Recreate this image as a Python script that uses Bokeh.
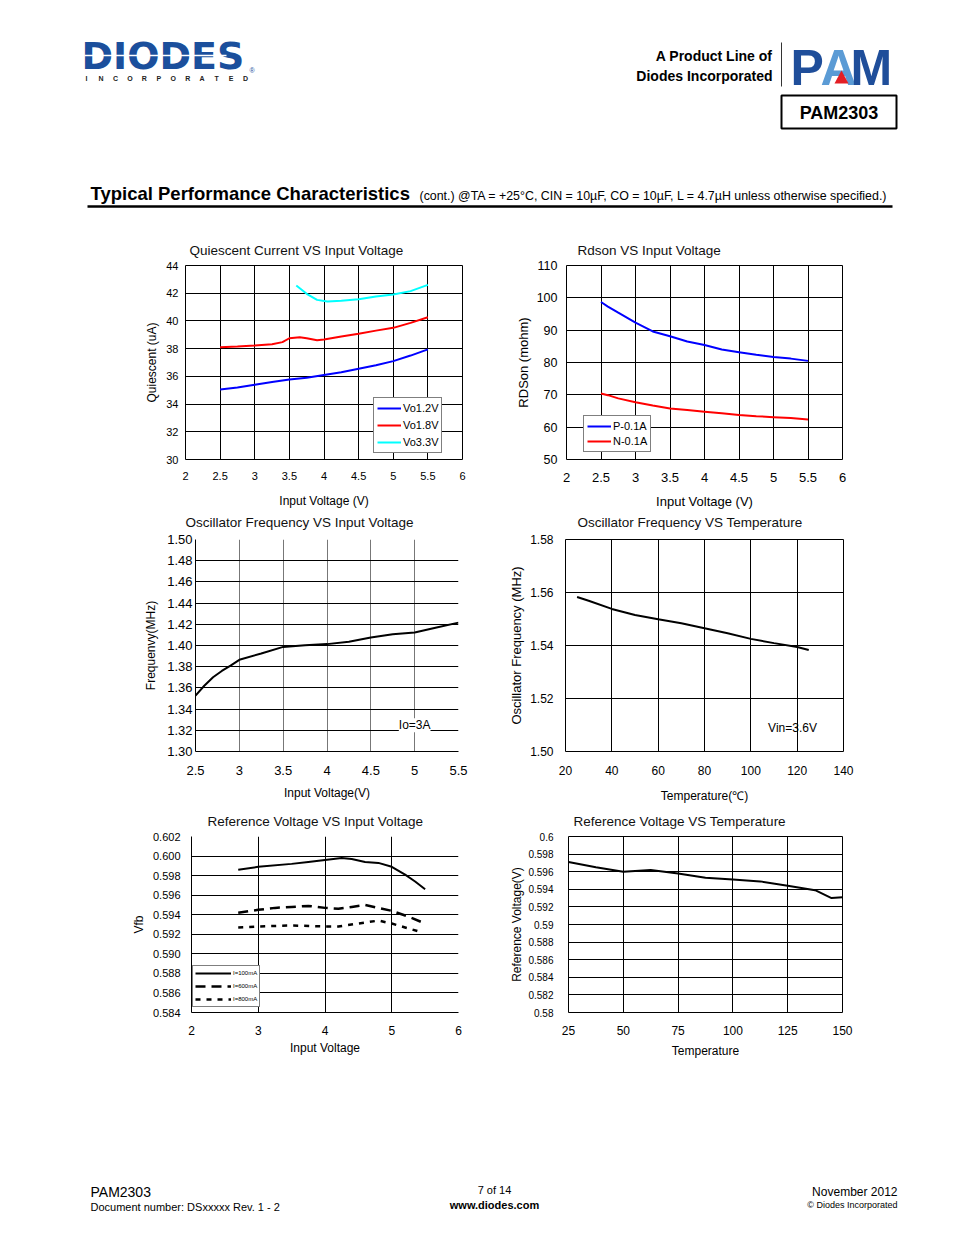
import numpy as np
from bokeh.plotting import figure
from bokeh.models import Range1d, FixedTicker, Legend, LegendItem, Label
from bokeh.layouts import column, row
from bokeh.embed import file_html
from bokeh.resources import INLINE
from bokeh.core.properties import value

FONT = "Liberation Sans"

# ---------------- data ----------------
# 1. Quiescent current vs input voltage
qc_vin_12 = [2.5, 2.75, 3.0, 3.25, 3.5, 3.75, 4.0, 4.25, 4.5, 4.75, 5.0, 5.25, 5.5]
qc_vo12 = [35.05, 35.2, 35.4, 35.6, 35.77, 35.9, 36.1, 36.3, 36.55, 36.8, 37.1, 37.5, 37.95]
qc_vin_18 = [2.5, 2.75, 3.0, 3.25, 3.4, 3.5, 3.65, 3.75, 3.9, 4.0, 4.25, 4.5, 4.75, 5.0, 5.25, 5.5]
qc_vo18 = [38.1, 38.15, 38.23, 38.32, 38.47, 38.75, 38.83, 38.75, 38.6, 38.66, 38.88, 39.07, 39.3, 39.5, 39.86, 40.27]
qc_vin_33 = [3.6, 3.75, 3.9, 4.05, 4.25, 4.5, 4.75, 5.0, 5.25, 5.5]
qc_vo33 = [42.56, 41.96, 41.52, 41.4, 41.45, 41.57, 41.76, 41.9, 42.15, 42.6]
qc_xticks = [2, 2.5, 3, 3.5, 4, 4.5, 5, 5.5, 6]
qc_xlabels = ["2", "2.5", "3", "3.5", "4", "4.5", "5", "5.5", "6"]
qc_yticks = [30, 32, 34, 36, 38, 40, 42, 44]
qc_ylabels = ["30", "32", "34", "36", "38", "40", "42", "44"]

# 2. Rdson vs input voltage
rd_vin = [2.5, 2.6, 2.75, 3.0, 3.25, 3.5, 3.75, 4.0, 4.25, 4.5, 4.75, 5.0, 5.25, 5.5]
rd_p = [98.7, 97.3, 95.4, 92.3, 89.6, 88.1, 86.5, 85.4, 84.0, 83.2, 82.4, 81.7, 81.2, 80.5]
rd_n = [70.4, 69.9, 68.9, 67.7, 66.7, 65.8, 65.3, 64.8, 64.3, 63.8, 63.4, 63.1, 62.8, 62.4]
rd_xticks = [2, 2.5, 3, 3.5, 4, 4.5, 5, 5.5, 6]
rd_xlabels = ["2", "2.5", "3", "3.5", "4", "4.5", "5", "5.5", "6"]
rd_yticks = [50, 60, 70, 80, 90, 100, 110]
rd_ylabels = ["50", "60", "70", "80", "90", "100", "110"]

# 3. Oscillator frequency vs input voltage
fv_vin = [2.5, 2.6, 2.7, 2.8, 2.9, 3.0, 3.25, 3.5, 3.75, 4.0, 4.25, 4.5, 4.75, 5.0, 5.25, 5.5]
fv_f = [1.3527, 1.362, 1.370, 1.376, 1.381, 1.3865, 1.3925, 1.3987, 1.4003, 1.4013, 1.4035, 1.4075, 1.4107, 1.4122, 1.4169, 1.4216]
fv_xticks = [2.5, 3, 3.5, 4, 4.5, 5, 5.5]
fv_xlabels = ["2.5", "3", "3.5", "4", "4.5", "5", "5.5"]
fv_yticks = [1.30, 1.32, 1.34, 1.36, 1.38, 1.40, 1.42, 1.44, 1.46, 1.48, 1.50]
fv_ylabels = ["1.30", "1.32", "1.34", "1.36", "1.38", "1.40", "1.42", "1.44", "1.46", "1.48", "1.50"]

# 4. Oscillator frequency vs temperature
ft_temp = [25, 30, 40, 50, 60, 70, 80, 90, 100, 110, 120, 125]
ft_f = [1.5583, 1.5569, 1.5538, 1.5515, 1.5499, 1.5484, 1.5465, 1.5446, 1.5425, 1.5409, 1.5394, 1.5383]
ft_xticks = [20, 40, 60, 80, 100, 120, 140]
ft_xlabels = ["20", "40", "60", "80", "100", "120", "140"]
ft_yticks = [1.50, 1.52, 1.54, 1.56, 1.58]
ft_ylabels = ["1.50", "1.52", "1.54", "1.56", "1.58"]

# 5. Reference voltage vs input voltage
rv_vin_100 = [2.7, 3.0, 3.5, 3.75, 4.0, 4.25, 4.4, 4.6, 4.8, 5.0, 5.2, 5.35, 5.5]
rv_100 = [0.5986, 0.5989, 0.5992, 0.5994, 0.5996, 0.5998, 0.5997, 0.5994, 0.5993, 0.5989, 0.5981, 0.5974, 0.5966]
rv_vin_600 = [2.7, 3.0, 3.25, 3.5, 3.75, 4.0, 4.2, 4.4, 4.6, 4.8, 5.0, 5.25, 5.5]
rv_600 = [0.5942, 0.5945, 0.5947, 0.5948, 0.5949, 0.5947, 0.5946, 0.5948, 0.5950, 0.5947, 0.5944, 0.5938, 0.5931]
rv_vin_800 = [2.7, 3.0, 3.5, 4.0, 4.2, 4.5, 4.8, 5.0, 5.2, 5.4]
rv_800 = [0.5927, 0.5928, 0.5929, 0.5928, 0.5928, 0.5931, 0.5934, 0.5931, 0.5927, 0.5923]
rv_xticks = [2, 3, 4, 5, 6]
rv_xlabels = ["2", "3", "4", "5", "6"]
rv_yticks = [0.584, 0.586, 0.588, 0.590, 0.592, 0.594, 0.596, 0.598, 0.600, 0.602]
rv_ylabels = ["0.584", "0.586", "0.588", "0.590", "0.592", "0.594", "0.596", "0.598", "0.600", "0.602"]

# 6. Reference voltage vs temperature
rt_temp = [25, 37.5, 50, 62.5, 75, 87.5, 100, 112.5, 125, 137.5, 145, 150]
rt_v = [0.5971, 0.5965, 0.5960, 0.5962, 0.5958, 0.5953, 0.5951, 0.5949, 0.5944, 0.5939, 0.5930, 0.5931]
rt_xticks = [25, 50, 75, 100, 125, 150]
rt_xlabels = ["25", "50", "75", "100", "125", "150"]
rt_yticks = [0.58, 0.582, 0.584, 0.586, 0.588, 0.59, 0.592, 0.594, 0.596, 0.598, 0.6]
rt_ylabels = ["0.58", "0.582", "0.584", "0.586", "0.588", "0.59", "0.592", "0.594", "0.596", "0.598", "0.6"]

# chart titles
titles = ["Quiescent Current VS Input Voltage", "Rdson VS Input Voltage",
          "Oscillator Frequency VS Input Voltage", "Oscillator Frequency VS Temperature",
          "Reference Voltage VS Input Voltage", "Reference Voltage VS Temperature"]


# ---------------- helpers ----------------
def chart(w, h, borders, xr, yr, xt, xl, yt, yl, xlab, ylab,
          xt_size, yt_size, xl_size, yl_size, x_std, x_lstd, y_std, y_lstd,
          xgrid=None, xgrid_color="black", outline=True):
    ml, mr, mt, mb = borders
    p = figure(width=w, height=h, x_range=Range1d(*xr), y_range=Range1d(*yr),
               output_backend="svg", toolbar_location=None,
               min_border_left=ml, min_border_right=mr, min_border_top=mt, min_border_bottom=mb)
    xa = p.xaxis[0]
    ya = p.yaxis[0]
    xa.ticker = FixedTicker(ticks=xt)
    ya.ticker = FixedTicker(ticks=yt)
    xa.major_label_overrides = dict(zip(xt, xl))
    ya.major_label_overrides = dict(zip(yt, yl))
    for ax, ts, ls, std, lstd, lab in ((xa, xt_size, xl_size, x_std, x_lstd, xlab),
                                       (ya, yt_size, yl_size, y_std, y_lstd, ylab)):
        ax.axis_label = lab
        ax.axis_label_text_font = FONT
        ax.axis_label_text_font_size = ls
        ax.axis_label_text_font_style = "normal"
        ax.axis_label_text_color = "black"
        ax.major_label_text_font = FONT
        ax.major_label_text_font_size = ts
        ax.major_label_text_color = "black"
        ax.major_tick_out = 0
        ax.major_tick_in = 0
        ax.minor_tick_out = 0
        ax.minor_tick_in = 0
        ax.major_label_standoff = std
        ax.axis_label_standoff = lstd
        ax.axis_line_color = None if outline else "black"
    p.xgrid.ticker = FixedTicker(ticks=xgrid if xgrid is not None else xt)
    p.ygrid.ticker = FixedTicker(ticks=yt)
    p.xgrid.grid_line_color = xgrid_color
    p.ygrid.grid_line_color = "black"
    p.outline_line_color = "black" if outline else None
    p.outline_line_alpha = 1
    return p


def legend(p, items, loc, size, glyph_w, lh, spacing, padding):
    lg = Legend(items=[LegendItem(label=l, renderers=[r]) for l, r in items], location=loc)
    lg.label_text_font = FONT
    lg.label_text_font_size = size
    lg.label_text_color = "black"
    lg.glyph_width = glyph_w
    lg.glyph_height = lh
    lg.label_height = lh
    lg.spacing = spacing
    lg.padding = padding
    lg.margin = 0
    lg.label_standoff = 2
    lg.border_line_color = "black"
    lg.border_line_width = 1
    lg.background_fill_alpha = 1
    p.add_layout(lg)


def blank(h, y0, y1):
    p = figure(width=946, height=h, x_range=Range1d(0, 946), y_range=Range1d(y1, y0),
               output_backend="svg", toolbar_location=None, min_border=0)
    p.axis.visible = False
    p.grid.visible = False
    p.outline_line_color = None
    return p


def txt(p, x, y, s, size, bold=False, align="left", color="black", font=FONT):
    px = float(size.replace("px", ""))
    p.text(x=[x], y=[y - 0.32 * px], text=[s], text_font=value(font), text_font_size=size,
           text_font_style="bold" if bold else "normal", text_align=align,
           text_baseline="alphabetic", text_color=color)


TSIZE = "13.5px"
TCOL = "#111111"

# ---------------- charts ----------------
# chart 1
p1 = chart(500, 256, (185, 38, 7, 55), (2, 6), (30, 44), qc_xticks, qc_xlabels, qc_yticks, qc_ylabels,
           "Input Voltage (V)", "Quiescent (uA)",
           "11px", "11px", "12px", "12px", 12, 11, 7, 4)
r12 = p1.line(qc_vin_12, qc_vo12, line_color="#0000FF", line_width=2)
r18 = p1.line(qc_vin_18, qc_vo18, line_color="#FF0000", line_width=2)
r33 = p1.line(qc_vin_33, qc_vo33, line_color="#00FFFF", line_width=2)
legend(p1, [("Vo1.2V", r12), ("Vo1.8V", r18), ("Vo3.3V", r33)], (188, 6), "11px", 24, 14, 3, 3)

# chart 2
p2 = chart(446, 256, (66, 104, 7, 54), (2, 6), (50, 110), rd_xticks, rd_xlabels, rd_yticks, rd_ylabels,
           "Input Voltage (V)", "RDSon (mohm)",
           "13px", "12.5px", "13px", "13px", 13, 9, 9, 3)
rp = p2.line(rd_vin, rd_p, line_color="#0000FF", line_width=2)
rn = p2.line(rd_vin, rd_n, line_color="#FF0000", line_width=2)
legend(p2, [("P-0.1A", rp), ("N-0.1A", rn)], (17, 7), "11px", 24, 14, 1, 3)

# chart 3
p3 = chart(500, 278, (195, 42, 8, 57), (2.5, 5.5), (1.30, 1.50), fv_xticks, fv_xlabels, fv_yticks, fv_ylabels,
           "Input Voltage(V)", "Frequenvy(MHz)",
           "13px", "13px", "12px", "12px", 14, 8, 3, 6,
           xgrid=[3, 3.5, 4, 4.5, 5], xgrid_color="#777777", outline=False)
p3.line(fv_vin, fv_f, line_color="black", line_width=2)
p3.add_layout(Label(x=5.0, y=1.32, text="Io=3A", text_align="center", text_baseline="middle",
                    y_offset=5, text_font=FONT, text_font_size="12px", text_color="black",
                    background_fill_color="white", background_fill_alpha=1))

# chart 4
p4 = chart(446, 278, (65, 103, 9, 56), (20, 140), (1.50, 1.58), ft_xticks, ft_xlabels, ft_yticks, ft_ylabels,
           "Temperature(\u2103)", "Oscillator Frequency (MHz)",
           "12px", "12px", "12px", "13px", 14, 11, 12, 3)
p4.line(ft_temp, ft_f, line_color="black", line_width=2)
p4.add_layout(Label(x=118, y=1.509, text="Vin=3.6V", text_align="center", text_baseline="middle",
                    text_font=FONT, text_font_size="12px", text_color="black"))

# chart 5
p5 = chart(500, 236, (191, 42, 7, 53), (2, 6), (0.584, 0.602), rv_xticks, rv_xlabels, rv_yticks, rv_ylabels,
           "Input Voltage", "Vfb",
           "12px", "11px", "12px", "12px", 13, 3, 11, 4,
           xgrid=[3, 4, 5], outline=False)
ra = p5.line(rv_vin_100, rv_100, line_color="black", line_width=2)
rb = p5.line(rv_vin_600, rv_600, line_color="black", line_width=2.5, line_dash="10 6")
rc = p5.line(rv_vin_800, rv_800, line_color="black", line_width=2.5, line_dash="5 6")
legend(p5, [("I=100mA", ra), ("I=600mA", rb), ("I=800mA", rc)], (1, 5), "6px", 36, 10, 3, 2)

# chart 6
p6 = chart(446, 236, (68, 104, 6, 52), (25, 150), (0.58, 0.6), rt_xticks, rt_xlabels, rt_yticks, rt_ylabels,
           "Temperature", "Reference Voltage(V)",
           "12px", "10px", "12px", "12px", 13, 6, 15, 1)
p6.line(rt_temp, rt_v, line_color="black", line_width=2)


# ---------------- header / title strips / footer ----------------
hd = blank(258, 0, 258)
txt(hd, 81, 68, "DIODES", "38px", bold=True, color="#1B4F9C", font="DejaVu Sans")
hd.line([84, 226], [55, 55], line_color="white", line_width=1.5)
hd.text(x=list(np.linspace(86, 245, 12)), y=[80 - 0.32 * 7] * 12, text=list("INCORPORATED"),
        text_font=value(FONT), text_font_size="7px", text_font_style="bold",
        text_align="center", text_baseline="alphabetic", text_color="#222222")
txt(hd, 249, 72, "\u00ae", "7px", color="#1B4F9C")
txt(hd, 772, 60, "A Product Line of", "14px", bold=True, align="right")
txt(hd, 772, 80, "Diodes Incorporated", "14px", bold=True, align="right")
hd.line([781, 781], [42, 86], line_color="#333333", line_width=1)
txt(hd, 790, 83, "P", "50px", bold=True, color="#1F4E9A")
txt(hd, 820, 83, "A", "50px", bold=True, color="#5B9BD5")
txt(hd, 850, 83, "M", "50px", bold=True, color="#1F4E9A")
hd.patch([834, 848, 841], [83, 83, 70], fill_color="#E31E24", line_color=None)
hd.quad(left=[781], right=[896], top=[95], bottom=[128], fill_color=None,
        line_color="black", line_width=2)
txt(hd, 838.5, 118, "PAM2303", "18px", bold=True, align="center")
txt(hd, 90, 199, "Typical Performance Characteristics", "18.5px", bold=True)
txt(hd, 419, 199, "(cont.) @TA = +25\u00b0C, CIN = 10\u00b5F, CO = 10\u00b5F, L = 4.7\u00b5H unless otherwise specified.)", "12.4px")
hd.line([87, 892], [206, 206], line_color="black", line_width=2.5)
txt(hd, 189, 254.5, titles[0], TSIZE, color=TCOL)
txt(hd, 577, 254.5, titles[1], TSIZE, color=TCOL)

s2 = blank(16, 514, 530)
txt(s2, 185, 526.5, titles[2], TSIZE, color=TCOL)
txt(s2, 577, 526.5, titles[3], TSIZE, color=TCOL)

s3 = blank(21, 808, 829)
txt(s3, 207, 825.5, titles[4], TSIZE, color=TCOL)
txt(s3, 573, 825.5, titles[5], TSIZE, color=TCOL)

ft = blank(162, 1065, 1227)
txt(ft, 90, 1196, "PAM2303", "14px")
txt(ft, 90, 1210, "Document number: DSxxxxx Rev. 1 - 2", "11px")
txt(ft, 494, 1193, "7 of 14", "11px", align="center")
txt(ft, 494, 1208, "www.diodes.com", "11px", bold=True, align="center")
txt(ft, 897, 1195, "November 2012", "12px", align="right")
txt(ft, 897, 1207, "\u00a9 Diodes Incorporated", "9px", align="right")

layout = column(hd, row(p1, p2), s2, row(p3, p4), s3, row(p5, p6), ft)
open("out.html", "w").write(file_html(layout, INLINE))
